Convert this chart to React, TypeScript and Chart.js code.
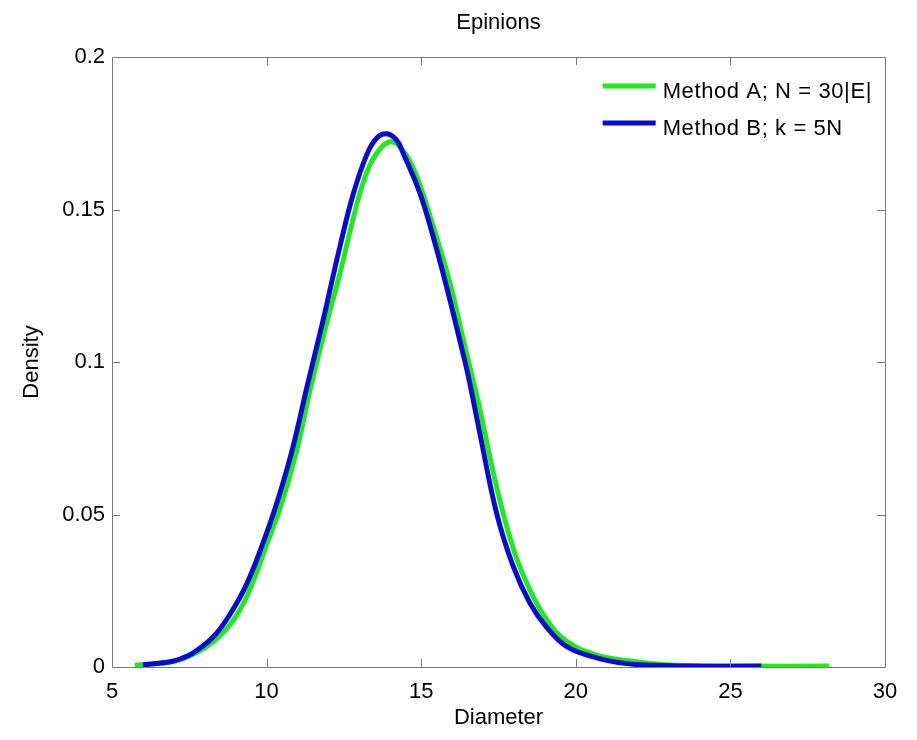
import React, { useEffect, useRef } from "react";
import { Chart, registerables } from "chart.js";

Chart.register(...registerables);

const chartTitle = "Epinions";
const xAxisTitle = "Diameter";
const yAxisTitle = "Density";

const xTicks = [5, 10, 15, 20, 25, 30];
const xTickLabels = ["5", "10", "15", "20", "25", "30"];
const yTicks = [0, 0.05, 0.1, 0.15, 0.2];
const yTickLabels = ["0", "0.05", "0.1", "0.15", "0.2"];

const seriesNames = ["Method A; N = 30|E|", "Method B; k = 5N"];
const seriesColors = ["#1eea1e", "#0a0ad2"];

const methodAX = [5.74, 6.3, 7.0, 7.6, 8.3, 8.9, 9.4, 10.0, 10.5, 11.0, 11.4, 11.9, 12.37, 12.8, 13.13, 13.5, 13.99, 14.4, 14.85, 15.39, 15.93, 16.3, 16.69, 16.9, 17.44, 17.98, 18.52, 19.06, 19.71, 20.68, 21.65, 22.5, 23.5, 25.0, 28.2];
const methodAY = [0.0006, 0.001, 0.0018, 0.004, 0.0085, 0.015, 0.024, 0.040, 0.054, 0.072, 0.0905, 0.111, 0.129, 0.147, 0.159, 0.1675, 0.1722, 0.1695, 0.161, 0.1445, 0.126, 0.110, 0.0935, 0.0845, 0.059, 0.0388, 0.0252, 0.0155, 0.0084, 0.0039, 0.0021, 0.0011, 0.0005, 0.0003, 0.0003];

const methodBX = [6.0, 6.5, 7.0, 7.6, 8.27, 8.8, 9.37, 10.0, 10.43, 10.85, 11.31, 11.83, 12.37, 12.8, 13.24, 13.55, 13.88, 14.2, 14.42, 14.96, 15.39, 15.82, 16.25, 16.52, 16.9, 17.44, 17.98, 18.52, 19.06, 19.71, 20.68, 21.65, 22.5, 23.5, 26.0];
const methodBY = [0.0007, 0.0012, 0.002, 0.0045, 0.0098, 0.017, 0.0275, 0.0439, 0.057, 0.072, 0.092, 0.1138, 0.1378, 0.155, 0.168, 0.1733, 0.1748, 0.1728, 0.1684, 0.1553, 0.141, 0.1247, 0.107, 0.0955, 0.0765, 0.0504, 0.0329, 0.0209, 0.0130, 0.0067, 0.0030, 0.0011, 0.0006, 0.0003, 0.0003];

const FONT = "'Liberation Sans', Arial, Helvetica, sans-serif";
const FONT_SIZE = 22;
const AXIS_COLOR = "#7a7a7a";

const framePlugin = {
  id: "matlabFrame",
  afterDatasetsDraw(chart: any) {
    const { ctx, chartArea, scales } = chart;
    const { left, right, top, bottom } = chartArea;
    const tickLen = 8;
    ctx.save();
    ctx.strokeStyle = AXIS_COLOR;
    ctx.lineWidth = 1;
    ctx.beginPath();
    ctx.rect(Math.round(left) + 0.5, Math.round(top) + 0.5, Math.round(right - left), Math.round(bottom - top));
    ctx.stroke();
    ctx.beginPath();
    xTicks.forEach((v, i) => {
      if (i === 0 || i === xTicks.length - 1) return;
      const px = Math.round(scales.x.getPixelForValue(v)) + 0.5;
      ctx.moveTo(px, bottom);
      ctx.lineTo(px, bottom - tickLen);
      ctx.moveTo(px, top);
      ctx.lineTo(px, top + tickLen);
    });
    yTicks.forEach((v, i) => {
      if (i === 0 || i === yTicks.length - 1) return;
      const py = Math.round(scales.y.getPixelForValue(v)) + 0.5;
      ctx.moveTo(left, py);
      ctx.lineTo(left + tickLen, py);
      ctx.moveTo(right, py);
      ctx.lineTo(right - tickLen, py);
    });
    ctx.stroke();

    // title centred over the plot box
    ctx.fillStyle = "#000";
    ctx.font = `${FONT_SIZE}px ${FONT}`;
    ctx.textAlign = "center";
    ctx.textBaseline = "middle";
    ctx.fillText(chartTitle, (left + right) / 2, 23);
    ctx.restore();
  },
};

const legendPlugin = {
  id: "matlabLegend",
  afterDraw(chart: any) {
    const { ctx, chartArea } = chart;
    const datasets = chart.data.datasets;
    ctx.save();
    ctx.font = `${FONT_SIZE}px ${FONT}`;
    try {
      (ctx as any).letterSpacing = "0.6px";
    } catch (e) {}
    let maxW = 0;
    datasets.forEach((ds: any) => {
      maxW = Math.max(maxW, ctx.measureText(ds.label).width);
    });
    const textX = chartArea.right - 13 - maxW;
    const lineX1 = textX - 60;
    const lineX2 = textX - 7;
    datasets.forEach((ds: any, i: number) => {
      const ly = chartArea.top + 29 + i * 37;
      ctx.strokeStyle = ds.borderColor;
      ctx.lineWidth = 5;
      ctx.lineCap = "butt";
      ctx.beginPath();
      ctx.moveTo(lineX1, ly);
      ctx.lineTo(lineX2, ly);
      ctx.stroke();
      ctx.fillStyle = "#000";
      ctx.textAlign = "left";
      ctx.textBaseline = "alphabetic";
      ctx.fillText(ds.label, textX, ly + 12);
    });
    ctx.restore();
  },
};

function toPoints(xs: number[], ys: number[]) {
  return xs.map((x, i) => ({ x, y: ys[i] }));
}

export default function App() {
  const canvasRef = useRef<HTMLCanvasElement | null>(null);

  useEffect(() => {
    if (!canvasRef.current) return;
    const chart = new Chart(canvasRef.current, {
      type: "line",
      data: {
        datasets: [
          {
            label: seriesNames[0],
            data: toPoints(methodAX, methodAY),
            borderColor: seriesColors[0],
            backgroundColor: seriesColors[0],
            borderWidth: 5,
            pointRadius: 0,
            tension: 0.4,
            borderCapStyle: "butt",
            borderJoinStyle: "round",
            clip: 0,
            order: 1,
          },
          {
            label: seriesNames[1],
            data: toPoints(methodBX, methodBY),
            borderColor: seriesColors[1],
            backgroundColor: seriesColors[1],
            borderWidth: 5,
            pointRadius: 0,
            tension: 0.4,
            borderCapStyle: "butt",
            borderJoinStyle: "round",
            clip: 0,
            order: 0,
          },
        ],
      } as any,
      options: {
        animation: false,
        responsive: false,
        maintainAspectRatio: false,
        layout: { padding: { left: 0, right: 32, top: 57, bottom: 0 } },
        plugins: {
          legend: { display: false },
          tooltip: { enabled: false },
          title: { display: false },
        },
        scales: {
          x: {
            type: "linear",
            min: 5,
            max: 30,
            grid: { display: false, drawTicks: false },
            border: { display: false },
            afterBuildTicks: (axis: any) => {
              axis.ticks = xTicks.map((v) => ({ value: v }));
            },
            afterFit: (scale: any) => {
              scale.height = 73;
            },
            ticks: {
              color: "#000",
              padding: 12,
              maxRotation: 0,
              autoSkip: false,
              font: { family: FONT, size: FONT_SIZE },
              callback: (value: any) => {
                const i = xTicks.findIndex((t) => Math.abs(t - Number(value)) < 1e-9);
                return i >= 0 ? xTickLabels[i] : "";
              },
            },
            title: {
              display: true,
              text: xAxisTitle,
              color: "#000",
              font: { family: FONT, size: FONT_SIZE },
              padding: { top: 0, bottom: 9 },
            },
          },
          y: {
            type: "linear",
            min: 0,
            max: 0.2,
            grid: { display: false, drawTicks: false },
            border: { display: false },
            afterBuildTicks: (axis: any) => {
              axis.ticks = yTicks.map((v) => ({ value: v }));
            },
            afterFit: (scale: any) => {
              scale.width = 112;
            },
            ticks: {
              color: "#000",
              padding: 7,
              autoSkip: false,
              font: { family: FONT, size: FONT_SIZE },
              callback: (value: any) => {
                const i = yTicks.findIndex((t) => Math.abs(t - Number(value)) < 1e-9);
                return i >= 0 ? yTickLabels[i] : "";
              },
            },
            title: {
              display: true,
              text: yAxisTitle,
              color: "#000",
              font: { family: FONT, size: FONT_SIZE },
              padding: { top: 19, bottom: 0 },
            },
          },
        },
      },
      plugins: [framePlugin, legendPlugin],
    });
    return () => chart.destroy();
  }, []);

  return (
    <div style={{ position: "absolute", left: 0, top: 0, width: 917, height: 740, background: "#fff" }}>
      <canvas ref={canvasRef} width={917} height={740} style={{ display: "block" }} />
    </div>
  );
}
